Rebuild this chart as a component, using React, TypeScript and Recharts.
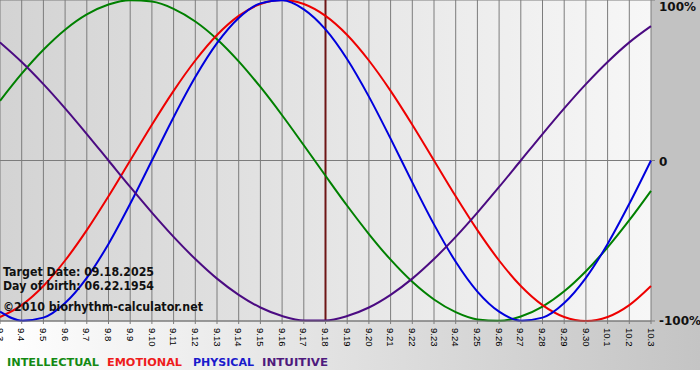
import { LineChart, Line, XAxis, YAxis, CartesianGrid, ReferenceLine } from 'recharts';

const dates = [
  '9.3', '9.4', '9.5', '9.6', '9.7', '9.8', '9.9', '9.10', '9.11', '9.12', '9.13',
  '9.14', '9.15', '9.16', '9.17', '9.18', '9.19', '9.20', '9.21', '9.22', '9.23',
  '9.24', '9.25', '9.26', '9.27', '9.28', '9.29', '9.30', '10.1', '10.2', '10.3',
];

const intellectual = [
  37.2, 54.1, 69.0, 81.5, 91.0, 97.2, 99.9, 99.0, 94.5, 86.6, 75.6,
  61.8, 45.8, 28.2, 9.5, -9.5, -28.2, -45.8, -61.8, -75.6, -86.6,
  -94.5, -99.0, -99.9, -97.2, -91.0, -81.5, -69.0, -54.1, -37.2, -18.9,
];

const emotional = [
  -97.5, -90.1, -78.2, -62.3, -43.4, -22.3, 0, 22.3, 43.4, 62.3, 78.2,
  90.1, 97.5, 100, 97.5, 90.1, 78.2, 62.3, 43.4, 22.3, 0,
  -22.3, -43.4, -62.3, -78.2, -90.1, -97.5, -100, -97.5, -90.1, -78.2,
];

const physical = [
  -94.2, -99.8, -97.9, -88.8, -73.1, -52.0, -27.0, 0, 27.0, 52.0, 73.1,
  88.8, 97.9, 99.8, 94.2, 81.7, 63.1, 39.8, 13.6, -13.6, -39.8,
  -63.1, -81.7, -94.2, -99.8, -97.9, -88.8, -73.1, -52.0, -27.0, 0,
];

const intuitive = [
  73.6, 61.4, 47.6, 32.5, 16.5, 0, -16.5, -32.5, -47.6, -61.4, -73.6,
  -83.7, -91.6, -96.9, -99.7, -99.7, -96.9, -91.6, -83.7, -73.6, -61.4,
  -47.6, -32.5, -16.5, 0, 16.5, 32.5, 47.6, 61.4, 73.6, 83.7,
];

const yTicks = [-100, 0, 100];
const targetDate = '9.18';

const data = dates.map((date, i) => ({
  date,
  intellectual: intellectual[i],
  emotional: emotional[i],
  physical: physical[i],
  intuitive: intuitive[i],
}));

const boldFont = '"DejaVu Sans", Verdana, sans-serif';

function DateTick(props: any) {
  const { x, y, payload } = props;
  return (
    <text
      transform={`translate(${x},${y + 2}) rotate(90)`}
      textAnchor="start"
      dy="0.35em"
      fontSize={9.5}
      fontFamily='"Liberation Sans", Arial, sans-serif'
      fill="#000"
    >
      {payload.value}
    </text>
  );
}

function PercentTick(props: any) {
  const { x, y, payload } = props;
  const v = payload.value;
  const shift = v === 100 ? 2 : v === 0 ? 5 : 4;
  return (
    <text x={x + 2} y={y + shift} textAnchor="start" fontSize={12} fontWeight="bold" fontFamily={boldFont} fill="#111">
      {v === 0 ? '0' : `${v}%`}
    </text>
  );
}

export default function App() {
  return (
    <div style={{ position: 'absolute', left: 0, top: 0, width: 700, height: 380, background: '#fff', overflow: 'hidden' }}>
      <div style={{ position: 'absolute', left: 651, top: 0, width: 49, height: 321, background: '#c2c2c2' }} />
      <div
        style={{
          position: 'absolute',
          left: 0,
          top: 321,
          width: 700,
          height: 49,
          background: 'linear-gradient(to right, #ffffff 0%, #e6e6e6 40%, #c4c4c4 100%)',
        }}
      />
      <div style={{ position: 'absolute', left: 0, top: 0 }}>
        <LineChart width={700} height={380} data={data} margin={{ top: 0, right: 0, bottom: 0, left: 0 }}>
          <defs>
            <linearGradient id="plotBg" x1="0" y1="0" x2="1" y2="0">
              <stop offset="0%" stopColor="#d3d3d3" />
              <stop offset="100%" stopColor="#f7f7f7" />
            </linearGradient>
          </defs>
          <CartesianGrid stroke="#7c7c7c" fill="url(#plotBg)" fillOpacity={1} />
          <XAxis
            dataKey="date"
            interval={0}
            height={59}
            tickSize={3}
            tickLine={{ stroke: '#7c7c7c' }}
            axisLine={{ stroke: '#7c7c7c' }}
            tick={<DateTick />}
          />
          <YAxis
            orientation="right"
            width={49}
            domain={[-100, 100]}
            ticks={yTicks}
            tickSize={4}
            tickLine={{ stroke: '#7c7c7c' }}
            axisLine={false}
            tick={<PercentTick />}
          />
          <ReferenceLine x={targetDate} stroke="#6e1616" strokeWidth={2} />
          <Line type="monotone" dataKey="intellectual" stroke="#008000" strokeWidth={2} dot={false} activeDot={false} isAnimationActive={false} />
          <Line type="monotone" dataKey="emotional" stroke="#ee0000" strokeWidth={2} dot={false} activeDot={false} isAnimationActive={false} />
          <Line type="monotone" dataKey="physical" stroke="#0000dd" strokeWidth={2} dot={false} activeDot={false} isAnimationActive={false} />
          <Line type="monotone" dataKey="intuitive" stroke="#4b0b82" strokeWidth={2} dot={false} activeDot={false} isAnimationActive={false} />
        </LineChart>
      </div>
      <svg width={700} height={380} style={{ position: 'absolute', left: 0, top: 0, pointerEvents: 'none' }}>
        <g fontFamily={boldFont} fontWeight="bold" fontSize={12} fill="#111">
          <text x={3} y={276} textLength={151} lengthAdjust="spacingAndGlyphs">Target Date: 09.18.2025</text>
          <text x={3} y={290} textLength={151} lengthAdjust="spacingAndGlyphs">Day of birth: 06.22.1954</text>
          <text x={3} y={311} textLength={200} lengthAdjust="spacingAndGlyphs">©2010 biorhythm-calculator.net</text>
        </g>
        <g fontFamily={boldFont} fontWeight="bold" fontSize={11}>
          <text x={7} y={366} fill="#138a13" textLength={92} lengthAdjust="spacingAndGlyphs">INTELLECTUAL</text>
          <text x={107} y={366} fill="#ee1c1c" textLength={75} lengthAdjust="spacingAndGlyphs">EMOTIONAL</text>
          <text x={193} y={366} fill="#1a1acc" textLength={61} lengthAdjust="spacingAndGlyphs">PHYSICAL</text>
          <text x={262} y={366} fill="#4f1a7d" textLength={66} lengthAdjust="spacingAndGlyphs">INTUITIVE</text>
        </g>
      </svg>
    </div>
  );
}
